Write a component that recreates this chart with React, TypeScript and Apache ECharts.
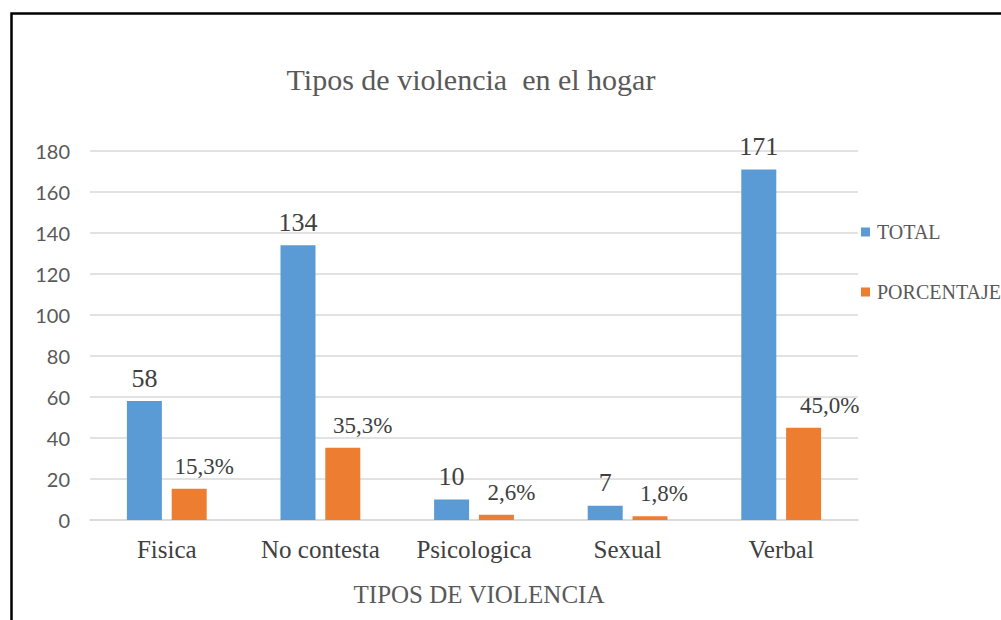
import React, { useEffect, useRef } from "react";
import * as echarts from "echarts";

const categories = ["Fisica", "No contesta", "Psicologica", "Sexual", "Verbal"];
const totalValues = [58, 134, 10, 7, 171];
const percentValues = [15.3, 35.3, 2.6, 1.8, 45.0];
const yTicks = { min: 0, max: 180, interval: 20 };
const seriesNames = ["TOTAL", "PORCENTAJE"];
// horizontal shift of the percentage labels (style only)
const pctLabelShift = [15, 20, 15, 14, 26];

const SERIF = "'Liberation Serif', 'Times New Roman', serif";
const SANS = "Lato, 'Liberation Sans', sans-serif";

export default function App() {
  const ref = useRef<HTMLDivElement>(null);
  useEffect(() => {
    if (!ref.current) return;
    const chart = echarts.init(ref.current, null, { renderer: "svg" });
    chart.setOption({
      animation: false,
      backgroundColor: "#ffffff",
      title: {
        text: "Tipos de violencia  en el hogar",
        left: 466,
        top: 59,
        textAlign: "center",
        textStyle: { fontFamily: SERIF, fontSize: 30, fontWeight: "normal", color: "#595959" },
      },
      legend: {
        orient: "vertical",
        left: 856,
        top: 217,
        itemWidth: 9,
        itemHeight: 9,
        itemGap: 40,
        icon: "rect",
        textStyle: { fontFamily: SERIF, fontSize: 20, color: "#595959", padding: [0, 0, 0, 2] },
        data: seriesNames,
      },
      grid: { left: 90, width: 768, top: 151, height: 369, containLabel: false },
      xAxis: {
        type: "category",
        data: categories,
        name: "TIPOS DE VIOLENCIA",
        nameLocation: "middle",
        nameGap: 62,
        nameTextStyle: { fontFamily: SERIF, fontSize: 25, color: "#595959", padding: [0, 0, 0, 10] },
        axisLine: { show: true, lineStyle: { color: "#d9d9d9", width: 1.5 } },
        axisTick: { show: false },
        axisLabel: { interval: 0, fontFamily: SERIF, fontSize: 25, color: "#404040", margin: 17 },
      },
      yAxis: {
        type: "value",
        min: yTicks.min,
        max: yTicks.max,
        interval: yTicks.interval,
        axisLine: { show: false },
        axisTick: { show: false },
        splitLine: { lineStyle: { color: "#d9d9d9", width: 1.5 } },
        axisLabel: { fontFamily: SANS, fontSize: 20, color: "#595959", margin: 20 },
      },
      series: [
        {
          name: seriesNames[0],
          type: "bar",
          data: totalValues,
          barWidth: 35,
          barGap: "28%",
          itemStyle: { color: "#5B9BD5" },
          label: {
            show: true,
            position: "top",
            distance: 10,
            fontFamily: SERIF,
            fontSize: 26,
            color: "#404040",
          },
        },
        {
          name: seriesNames[1],
          type: "bar",
          data: percentValues.map((v, i) => ({
            value: v,
            label: { offset: [pctLabelShift[i], 0] },
          })),
          barWidth: 35,
          itemStyle: { color: "#ED7D31" },
          label: {
            show: true,
            position: "top",
            distance: 11,
            fontFamily: SERIF,
            fontSize: 23,
            color: "#404040",
            formatter: (p: any) => p.value.toFixed(1).replace(".", ",") + "%",
          },
        },
      ],
      graphic: [
        {
          type: "rect",
          left: 9,
          top: 11,
          shape: { x: 0, y: 0, width: 1200, height: 800 },
          style: { fill: "none", stroke: "#000000", lineWidth: 2.5 },
          silent: true,
        },
      ],
    });
    return () => chart.dispose();
  }, []);
  return (
    <div
      ref={ref}
      style={{ position: "fixed", left: 0, top: 0, width: 1001, height: 620, background: "#fff" }}
    />
  );
}
